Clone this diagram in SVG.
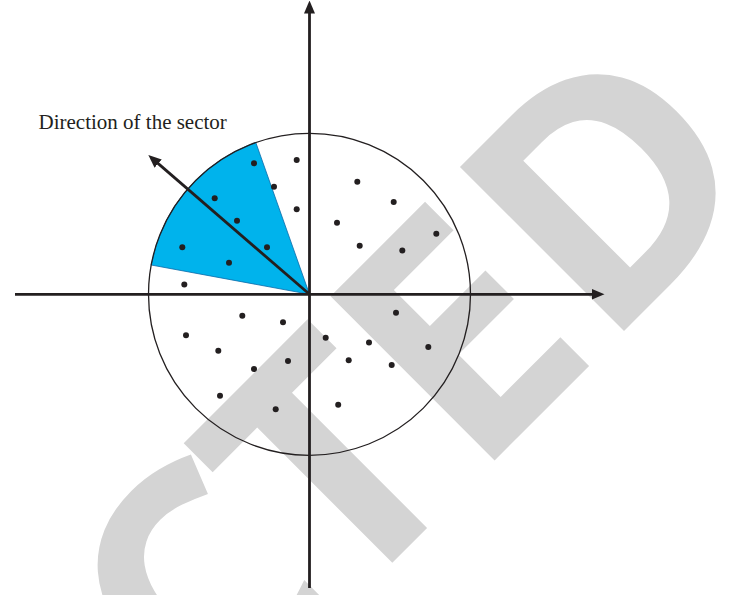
<svg xmlns="http://www.w3.org/2000/svg" width="737" height="595" viewBox="0 0 737 595">
  <style>
    .wm { font-family: "Open Sans", "Liberation Sans", sans-serif; font-weight: 700; font-size: 325px; fill: #d4d4d4; }
    .ax { stroke: #231f20; stroke-width: 2.8; fill: none; }
    .dot { fill: #231f20; }
    .lbl { font-family: "Liberation Serif", "DejaVu Serif", serif; font-size: 21px; fill: #231f20; }
  </style>
  <defs>
    <marker id="ah" markerWidth="13" markerHeight="11" refX="1" refY="5.5" orient="auto" markerUnits="userSpaceOnUse">
      <path d="M0,0 L13,5.5 L0,11 z" fill="#231f20"/>
    </marker>
  </defs>
  <rect width="737" height="595" fill="#ffffff"/>

  <g id="watermark">
    <text class="wm" transform="rotate(-45)" x="-382 -190 -5 178" y="675.3">CTED</text>
  </g>

  <g id="sector">
    <path d="M309.5,294.3 L255.8,142.5 A161,161 0 0 0 151.2,265 Z" fill="#00b3ec" stroke="#0b6aa8" stroke-width="0.8"/>
  </g>

  <g id="circle">
    <circle cx="309.5" cy="294.3" r="161" fill="none" stroke="#231f20" stroke-width="1.3"/>
  </g>

  <g id="connectors">
    <line class="ax" x1="309.5" y1="588" x2="309.5" y2="12.5" marker-end="url(#ah)"/>
    <line class="ax" x1="15" y1="294.3" x2="592.5" y2="294.3" marker-end="url(#ah)"/>
    <line class="ax" x1="309.5" y1="294.3" x2="157.4" y2="162.9" marker-end="url(#ah)"/>
  </g>

  <g id="dots">
    <circle class="dot" cx="254" cy="163.3" r="3"/>
    <circle class="dot" cx="274" cy="186.7" r="3"/>
    <circle class="dot" cx="296.7" cy="160" r="3"/>
    <circle class="dot" cx="214.7" cy="198.3" r="3"/>
    <circle class="dot" cx="237" cy="220.7" r="3"/>
    <circle class="dot" cx="296.7" cy="209.3" r="3"/>
    <circle class="dot" cx="182.3" cy="247.3" r="3"/>
    <circle class="dot" cx="267" cy="247.3" r="3"/>
    <circle class="dot" cx="229" cy="262.7" r="3"/>
    <circle class="dot" cx="184.3" cy="284.5" r="3"/>
    <circle class="dot" cx="357.3" cy="181.7" r="3"/>
    <circle class="dot" cx="393.7" cy="202" r="3"/>
    <circle class="dot" cx="337" cy="222.7" r="3"/>
    <circle class="dot" cx="436.3" cy="233.7" r="3"/>
    <circle class="dot" cx="359.7" cy="245.7" r="3"/>
    <circle class="dot" cx="402.3" cy="250.5" r="3"/>
    <circle class="dot" cx="242.3" cy="315.7" r="3"/>
    <circle class="dot" cx="283" cy="322.3" r="3"/>
    <circle class="dot" cx="186" cy="335.3" r="3"/>
    <circle class="dot" cx="218.3" cy="350.7" r="3"/>
    <circle class="dot" cx="254" cy="369" r="3"/>
    <circle class="dot" cx="288" cy="361" r="3"/>
    <circle class="dot" cx="220" cy="395.7" r="3"/>
    <circle class="dot" cx="275.7" cy="409.3" r="3"/>
    <circle class="dot" cx="396" cy="312.7" r="3"/>
    <circle class="dot" cx="325.7" cy="337.7" r="3"/>
    <circle class="dot" cx="369" cy="342.5" r="3"/>
    <circle class="dot" cx="348.7" cy="360.3" r="3"/>
    <circle class="dot" cx="391.7" cy="365" r="3"/>
    <circle class="dot" cx="428.3" cy="347" r="3"/>
    <circle class="dot" cx="338.2" cy="404.7" r="3"/>
  </g>

  <g id="label">
    <text class="lbl" x="38.5" y="128.5">Direction of the sector</text>
  </g>
</svg>
